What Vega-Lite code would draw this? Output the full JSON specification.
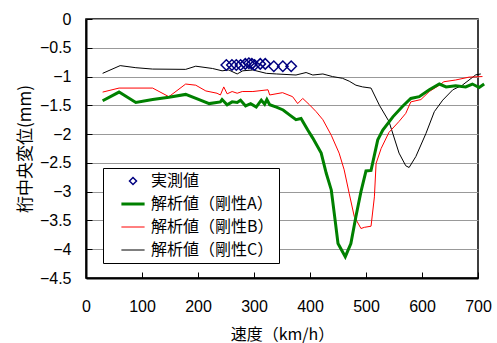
{
  "$schema": "https://vega.github.io/schema/vega-lite/v6.json",
  "width": 392,
  "height": 259,
  "autosize": {"type": "none"},
  "padding": {"left": 86, "top": 19, "right": 19, "bottom": 65},
  "background": "white",
  "config": {
    "view": {"stroke": "black", "strokeWidth": 1.5},
    "font": "Liberation Sans, Noto Sans CJK JP",
    "axis": {
      "labelFont": "Liberation Sans",
      "labelFontSize": 16,
      "labelColor": "black",
      "titleFont": "Noto Sans CJK JP",
      "titleFontWeight": "normal",
      "titleColor": "black",
      "domainColor": "black",
      "domainWidth": 2,
      "tickColor": "black",
      "tickWidth": 1,
      "tickSize": -6
    }
  },
  "data": {
    "values": [
      {"s": "解析値（剛性C）", "v": 29.7, "d": -0.944},
      {"s": "解析値（剛性C）", "v": 61, "d": -0.81},
      {"s": "解析値（剛性C）", "v": 89, "d": -0.846},
      {"s": "解析値（剛性C）", "v": 119, "d": -0.87},
      {"s": "解析値（剛性C）", "v": 178, "d": -0.875},
      {"s": "解析値（剛性C）", "v": 196, "d": -0.82},
      {"s": "解析値（剛性C）", "v": 226, "d": -0.86},
      {"s": "解析値（剛性C）", "v": 243, "d": -0.9},
      {"s": "解析値（剛性C）", "v": 255, "d": -0.886},
      {"s": "解析値（剛性C）", "v": 270, "d": -0.955},
      {"s": "解析値（剛性C）", "v": 280, "d": -0.9},
      {"s": "解析値（剛性C）", "v": 298, "d": -0.886},
      {"s": "解析値（剛性C）", "v": 322, "d": -0.944},
      {"s": "解析値（剛性C）", "v": 340, "d": -0.955},
      {"s": "解析値（剛性C）", "v": 375, "d": -0.973},
      {"s": "解析値（剛性C）", "v": 393, "d": -0.93},
      {"s": "解析値（剛性C）", "v": 405, "d": -0.973},
      {"s": "解析値（剛性C）", "v": 423, "d": -0.955},
      {"s": "解析値（剛性C）", "v": 440, "d": -1.0},
      {"s": "解析値（剛性C）", "v": 458, "d": -1.03},
      {"s": "解析値（剛性C）", "v": 470, "d": -1.08},
      {"s": "解析値（剛性C）", "v": 482, "d": -1.15},
      {"s": "解析値（剛性C）", "v": 494, "d": -1.18},
      {"s": "解析値（剛性C）", "v": 509, "d": -1.2},
      {"s": "解析値（剛性C）", "v": 524, "d": -1.5},
      {"s": "解析値（剛性C）", "v": 541, "d": -1.78},
      {"s": "解析値（剛性C）", "v": 559, "d": -2.33},
      {"s": "解析値（剛性C）", "v": 571, "d": -2.55},
      {"s": "解析値（剛性C）", "v": 577, "d": -2.58},
      {"s": "解析値（剛性C）", "v": 589, "d": -2.39},
      {"s": "解析値（剛性C）", "v": 607, "d": -1.99},
      {"s": "解析値（剛性C）", "v": 622, "d": -1.61},
      {"s": "解析値（剛性C）", "v": 637, "d": -1.41},
      {"s": "解析値（剛性C）", "v": 655, "d": -1.23},
      {"s": "解析値（剛性C）", "v": 672, "d": -1.15},
      {"s": "解析値（剛性C）", "v": 696, "d": -0.97},
      {"s": "解析値（剛性C）", "v": 705, "d": -0.955},

      {"s": "解析値（剛性B）", "v": 29.7, "d": -1.27},
      {"s": "解析値（剛性B）", "v": 59, "d": -1.2},
      {"s": "解析値（剛性B）", "v": 119, "d": -1.2},
      {"s": "解析値（剛性B）", "v": 148, "d": -1.35},
      {"s": "解析値（剛性B）", "v": 178, "d": -1.13},
      {"s": "解析値（剛性B）", "v": 196, "d": -1.15},
      {"s": "解析値（剛性B）", "v": 214, "d": -1.25},
      {"s": "解析値（剛性B）", "v": 234, "d": -1.29},
      {"s": "解析値（剛性B）", "v": 240, "d": -1.32},
      {"s": "解析値（剛性B）", "v": 246, "d": -1.18},
      {"s": "解析値（剛性B）", "v": 252, "d": -1.3},
      {"s": "解析値（剛性B）", "v": 261, "d": -1.26},
      {"s": "解析値（剛性B）", "v": 270, "d": -1.29},
      {"s": "解析値（剛性B）", "v": 279, "d": -1.26},
      {"s": "解析値（剛性B）", "v": 298, "d": -1.26},
      {"s": "解析値（剛性B）", "v": 325, "d": -1.23},
      {"s": "解析値（剛性B）", "v": 328, "d": -1.32},
      {"s": "解析値（剛性B）", "v": 351, "d": -1.28},
      {"s": "解析値（剛性B）", "v": 369, "d": -1.35},
      {"s": "解析値（剛性B）", "v": 378, "d": -1.47},
      {"s": "解析値（剛性B）", "v": 387, "d": -1.38},
      {"s": "解析値（剛性B）", "v": 399, "d": -1.49},
      {"s": "解析値（剛性B）", "v": 411, "d": -1.61},
      {"s": "解析値（剛性B）", "v": 423, "d": -1.75},
      {"s": "解析値（剛性B）", "v": 438, "d": -2.02},
      {"s": "解析値（剛性B）", "v": 452, "d": -2.33},
      {"s": "解析値（剛性B）", "v": 461, "d": -2.62},
      {"s": "解析値（剛性B）", "v": 470, "d": -3.03},
      {"s": "解析値（剛性B）", "v": 479, "d": -3.43},
      {"s": "解析値（剛性B）", "v": 491, "d": -3.64},
      {"s": "解析値（剛性B）", "v": 497, "d": -3.62},
      {"s": "解析値（剛性B）", "v": 509, "d": -3.6},
      {"s": "解析値（剛性B）", "v": 515, "d": -3.09},
      {"s": "解析値（剛性B）", "v": 518, "d": -2.51},
      {"s": "解析値（剛性B）", "v": 527, "d": -2.25},
      {"s": "解析値（剛性B）", "v": 541, "d": -1.97},
      {"s": "解析値（剛性B）", "v": 559, "d": -1.78},
      {"s": "解析値（剛性B）", "v": 571, "d": -1.64},
      {"s": "解析値（剛性B）", "v": 580, "d": -1.44},
      {"s": "解析値（剛性B）", "v": 598, "d": -1.4},
      {"s": "解析値（剛性B）", "v": 613, "d": -1.26},
      {"s": "解析値（剛性B）", "v": 631, "d": -1.15},
      {"s": "解析値（剛性B）", "v": 639, "d": -1.09},
      {"s": "解析値（剛性B）", "v": 660, "d": -1.06},
      {"s": "解析値（剛性B）", "v": 684, "d": -1.01},
      {"s": "解析値（剛性B）", "v": 708, "d": -1.0},

      {"s": "解析値（剛性A）", "v": 29.7, "d": -1.42},
      {"s": "解析値（剛性A）", "v": 59, "d": -1.27},
      {"s": "解析値（剛性A）", "v": 89, "d": -1.45},
      {"s": "解析値（剛性A）", "v": 119, "d": -1.4},
      {"s": "解析値（剛性A）", "v": 148, "d": -1.36},
      {"s": "解析値（剛性A）", "v": 178, "d": -1.31},
      {"s": "解析値（剛性A）", "v": 202, "d": -1.4},
      {"s": "解析値（剛性A）", "v": 220, "d": -1.47},
      {"s": "解析値（剛性A）", "v": 240, "d": -1.44},
      {"s": "解析値（剛性A）", "v": 243, "d": -1.4},
      {"s": "解析値（剛性A）", "v": 252, "d": -1.49},
      {"s": "解析値（剛性A）", "v": 261, "d": -1.44},
      {"s": "解析値（剛性A）", "v": 270, "d": -1.45},
      {"s": "解析値（剛性A）", "v": 276, "d": -1.41},
      {"s": "解析値（剛性A）", "v": 285, "d": -1.51},
      {"s": "解析値（剛性A）", "v": 294, "d": -1.47},
      {"s": "解析値（剛性A）", "v": 304, "d": -1.53},
      {"s": "解析値（剛性A）", "v": 313, "d": -1.41},
      {"s": "解析値（剛性A）", "v": 319, "d": -1.48},
      {"s": "解析値（剛性A）", "v": 323, "d": -1.4},
      {"s": "解析値（剛性A）", "v": 328, "d": -1.49},
      {"s": "解析値（剛性A）", "v": 340, "d": -1.53},
      {"s": "解析値（剛性A）", "v": 352, "d": -1.58},
      {"s": "解析値（剛性A）", "v": 364, "d": -1.67},
      {"s": "解析値（剛性A）", "v": 375, "d": -1.75},
      {"s": "解析値（剛性A）", "v": 384, "d": -1.73},
      {"s": "解析値（剛性A）", "v": 396, "d": -1.93},
      {"s": "解析値（剛性A）", "v": 405, "d": -2.07},
      {"s": "解析値（剛性A）", "v": 420, "d": -2.33},
      {"s": "解析値（剛性A）", "v": 429, "d": -2.68},
      {"s": "解析値（剛性A）", "v": 438, "d": -2.97},
      {"s": "解析値（剛性A）", "v": 444, "d": -3.43},
      {"s": "解析値（剛性A）", "v": 450, "d": -3.9},
      {"s": "解析値（剛性A）", "v": 463, "d": -4.13},
      {"s": "解析値（剛性A）", "v": 473, "d": -3.9},
      {"s": "解析値（剛性A）", "v": 482, "d": -3.43},
      {"s": "解析値（剛性A）", "v": 491, "d": -3.0},
      {"s": "解析値（剛性A）", "v": 500, "d": -2.64},
      {"s": "解析値（剛性A）", "v": 509, "d": -2.63},
      {"s": "解析値（剛性A）", "v": 521, "d": -2.1},
      {"s": "解析値（剛性A）", "v": 530, "d": -1.93},
      {"s": "解析値（剛性A）", "v": 548, "d": -1.7},
      {"s": "解析値（剛性A）", "v": 565, "d": -1.52},
      {"s": "解析値（剛性A）", "v": 580, "d": -1.38},
      {"s": "解析値（剛性A）", "v": 595, "d": -1.35},
      {"s": "解析値（剛性A）", "v": 613, "d": -1.23},
      {"s": "解析値（剛性A）", "v": 631, "d": -1.13},
      {"s": "解析値（剛性A）", "v": 643, "d": -1.18},
      {"s": "解析値（剛性A）", "v": 660, "d": -1.16},
      {"s": "解析値（剛性A）", "v": 678, "d": -1.18},
      {"s": "解析値（剛性A）", "v": 690, "d": -1.13},
      {"s": "解析値（剛性A）", "v": 702, "d": -1.19},
      {"s": "解析値（剛性A）", "v": 711, "d": -1.13},

      {"s": "実測値", "v": 250.6, "d": -0.8},
      {"s": "実測値", "v": 260.6, "d": -0.8},
      {"s": "実測値", "v": 268.4, "d": -0.8},
      {"s": "実測値", "v": 276.1, "d": -0.8},
      {"s": "実測値", "v": 284.5, "d": -0.78},
      {"s": "実測値", "v": 290.9, "d": -0.77},
      {"s": "実測値", "v": 296.2, "d": -0.78},
      {"s": "実測値", "v": 301, "d": -0.8},
      {"s": "実測値", "v": 311.2, "d": -0.78},
      {"s": "実測値", "v": 320.1, "d": -0.78},
      {"s": "実測値", "v": 335.4, "d": -0.82},
      {"s": "実測値", "v": 351.5, "d": -0.82},
      {"s": "実測値", "v": 366.4, "d": -0.82}
    ]
  },
  "encoding": {
    "x": {
      "field": "v", "type": "quantitative",
      "scale": {"domain": [0, 700], "nice": false, "zero": false},
      "axis": {
        "title": "速度（km/h）",
        "titleFontSize": 16,
        "titlePadding": 12,
        "values": [0, 100, 200, 300, 400, 500, 600, 700],
        "grid": false,
        "labelPadding": 26,
        "labelFlush": false
      }
    },
    "y": {
      "field": "d", "type": "quantitative",
      "scale": {"domain": [-4.5, 0], "nice": false, "zero": false},
      "axis": {
        "title": "桁中央変位(mm)",
        "titleFontSize": 17,
        "titlePadding": 5,
        "values": [-4.5, -4, -3.5, -3, -2.5, -2, -1.5, -1, -0.5, 0],
        "format": "~g",
        "grid": true,
        "gridColor": "#999999",
        "gridWidth": 1,
        "labelPadding": 21,
        "labelFlush": false
      }
    },
    "color": {
      "field": "s", "type": "nominal",
      "scale": {
        "domain": ["実測値", "解析値（剛性A）", "解析値（剛性B）", "解析値（剛性C）"],
        "range": ["#000080", "#008000", "#ff0000", "#000000"]
      },
      "legend": {
        "title": null,
        "orient": "none",
        "legendX": 17,
        "legendY": 149,
        "direction": "vertical",
        "fillColor": "white",
        "strokeColor": "black",
        "padding": 5,
        "rowPadding": 7,
        "symbolSize": 256,
        "symbolOffset": 17,
        "labelOffset": 10,
        "labelFont": "Noto Sans CJK JP",
        "labelFontSize": 16,
        "labelColor": "black",
        "labelLimit": 300,
        "encode": {
          "symbols": {
            "update": {
              "shape": {"signal": "datum.value === '実測値' ? 'diamond' : 'M-1.45,0H1.45'"},
              "size": {"signal": "datum.value === '実測値' ? 49 : 256"},
              "strokeWidth": {"signal": "datum.value === '解析値（剛性A）' ? 3 : (datum.value === '実測値' ? 1.5 : 1)"},
              "fill": {"value": "transparent"},
              "stroke": {"scale": "color", "field": "value"},
              "opacity": {"value": 1}
            }
          }
        }
      }
    }
  },
  "layer": [
    {
      "transform": [{"filter": "datum.s === '解析値（剛性C）'"}],
      "mark": {"type": "line", "strokeWidth": 1, "clip": false}
    },
    {
      "transform": [{"filter": "datum.s === '解析値（剛性B）'"}],
      "mark": {"type": "line", "strokeWidth": 1, "clip": false}
    },
    {
      "transform": [{"filter": "datum.s === '解析値（剛性A）'"}],
      "mark": {"type": "line", "strokeWidth": 3, "clip": false}
    },
    {
      "transform": [{"filter": "datum.s === '実測値'"}],
      "mark": {"type": "point", "shape": "diamond", "filled": false, "size": 110, "strokeWidth": 1.5, "opacity": 1}
    }
  ]
}
